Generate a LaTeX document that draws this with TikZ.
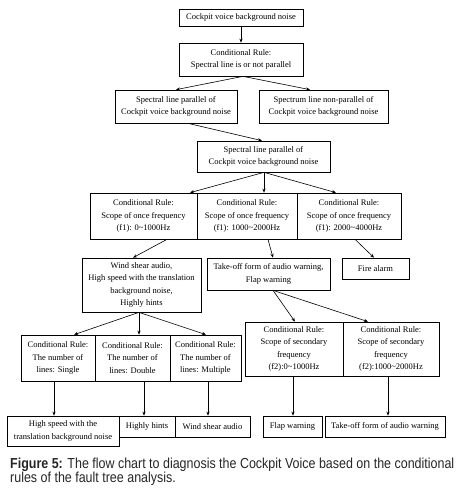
\documentclass[tikz,border=0pt]{standalone}
\usepackage{fontspec}
\setmainfont{Liberation Serif}
\newfontfamily\capfont[FakeStretch=0.86]{Liberation Sans}
\usetikzlibrary{arrows.meta}
\tikzset{
  box/.style={draw, line width=0.7pt, inner sep=0pt, align=center,
    font=\fontsize{8.5}{12.5}\selectfont},
  arr/.style={line width=0.6pt, -{Stealth[length=4pt,width=3.2pt]}}
}
\newcommand{\bx}[6]{\node[box, minimum width=#4pt, minimum height=#5pt] (#1) at (#2,#3) {#6};}
\begin{document}
\begin{tikzpicture}[x=1pt,y=-1pt]
\useasboundingbox (0,0) rectangle (459,490);
\bx{b1}{241}{17.5}{124}{17}{Cockpit voice background noise}
\bx{b2}{241}{59.5}{124}{33}{Conditional Rule:\\Spectral line is or not parallel}
\bx{b3a}{176}{106.5}{122}{33}{Spectral line parallel of\\Cockpit voice background noise}
\bx{b3b}{323.5}{106.5}{129}{33}{Spectrum line non-parallel of\\Cockpit voice background noise}
\bx{b4}{263.5}{156.5}{133}{31}{Spectral line parallel of\\Cockpit voice background noise}
\bx{b5a}{143.5}{216}{107}{46}{Conditional Rule:\\Scope of once frequency\\(f1): 0\textasciitilde1000Hz}
\bx{b5b}{247}{216}{100}{46}{Conditional Rule:\\Scope of once frequency\\(f1): 1000\textasciitilde2000Hz}
\bx{b5c}{349}{216}{104}{46}{Conditional Rule:\\Scope of once frequency\\(f1): 2000\textasciitilde4000Hz}
\bx{b6a}{141.5}{285}{119}{54}{Wind shear audio,\\High speed with the translation\\background noise,\\Highly hints}
\bx{b6b}{268.5}{274}{123}{32}{Take-off form of audio warning,\\Flap warning}
\bx{b6c}{375.5}{268.5}{67}{21}{Fire alarm}
\bx{b7a}{58}{358}{74}{46}{Conditional Rule:\\The number of\\lines: Single}
\bx{b7b}{132.5}{358}{75}{46}{Conditional Rule:\\The number of\\lines: Double}
\bx{b7c}{205.5}{358}{71}{46}{Conditional Rule:\\The number of\\lines: Multiple}
\bx{b7d}{294}{349}{98}{54}{Conditional Rule:\\Scope of secondary\\frequency\\(f2):0\textasciitilde1000Hz}
\bx{b7e}{391}{349}{96}{54}{Conditional Rule:\\Scope of secondary\\frequency\\(f2):1000\textasciitilde2000Hz}
\bx{b8a}{63}{431}{112}{30}{High speed with the\\translation background noise}
\bx{b8b}{147}{426.5}{56}{21}{Highly hints}
\bx{b8c}{212.5}{426.5}{75}{21}{Wind shear audio}
\bx{b8d}{292.5}{426.5}{59}{21}{Flap warning}
\bx{b8e}{385}{426.5}{120}{21}{Take-off form of audio warning}
% connectors
\draw[arr] (b1) -- (b2);
\draw[arr] ([xshift=2pt]b2.south) -- (b3a.north);
\draw[arr] ([xshift=2pt]b2.south) -- ([xshift=-13.5pt]b3b.north);
\draw[arr] ([xshift=12pt]b3a.south) -- ([xshift=-1.5pt]b4.north);
\draw[arr] ([xshift=0.5pt]b4.south) -- (b5a.north -| 190,0);
\draw[arr] ([xshift=0.5pt]b4.south) -- (b5b.north -| 264,0);
\draw[arr] ([xshift=0.5pt]b4.south) -- (b5c.north -| 336,0);
\draw[arr] (b5a.south -| 167,0) -- (b6a.north -| 133,0);
\draw[arr] (b5b.south -| 268,0) -- (b6b.north -| 273,0);
\draw[arr] (b5c.south -| 355,0) -- (b6c.north -| 374,0);
\draw[arr] (b6a.south -| 139,0) -- (b7a.north -| 74,0);
\draw[arr] (b6a.south -| 139,0) -- (b7b.north -| 139,0);
\draw[arr] (b6a.south -| 139,0) -- (b7c.north -| 206,0);
\draw[arr] (b6b.south -| 273,0) -- (b7d.north -| 295,0);
\draw[arr] (b6b.south -| 273,0) -- (b7e.north -| 368,0);
\draw[arr] (b7a.south -| 54,0) -- (b8a.north -| 54,0);
\draw[arr] (b7b.south -| 144,0) -- (b8b.north -| 144,0);
\draw[arr] (b7c.south -| 208,0) -- (b8c.north -| 208,0);
\draw[arr] (b7d.south -| 293,0) -- (b8d.north -| 293,0);
\draw[arr] (b7e.south -| 388,0) -- (b8e.north -| 388,0);
% caption
\node[anchor=north west, inner sep=0pt, align=left, text=black!85,
  font=\capfont\fontsize{14.5}{14.4}\selectfont] (cap) at (10,457.5)
  {\textbf{Figure 5:} The flow chart to diagnosis the Cockpit Voice based on the conditional\\rules of the fault tree analysis.};
\end{tikzpicture}
\end{document}
